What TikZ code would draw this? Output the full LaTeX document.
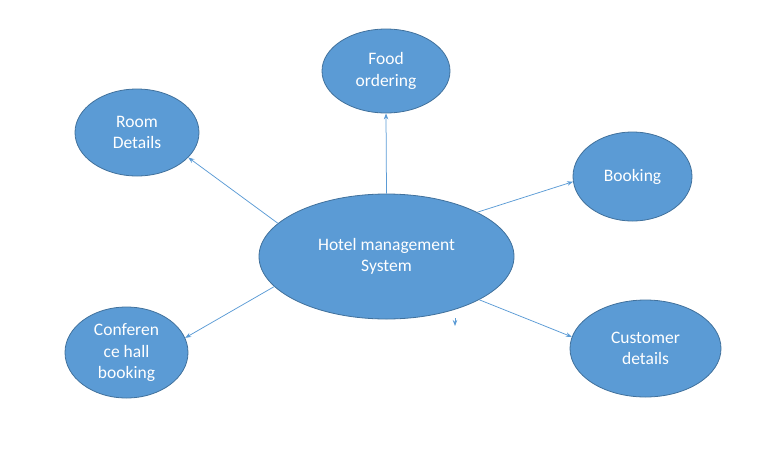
\documentclass[tikz,border=0pt]{standalone}
\usepackage{fontspec}
\setmainfont{Carlito}
\usetikzlibrary{shapes.geometric,arrows.meta}
\definecolor{blfill}{HTML}{5B9BD5}
\definecolor{blborder}{HTML}{41719C}
\definecolor{blline}{HTML}{5B9BD5}
\tikzset{
  bub/.style={ellipse,draw=blborder,fill=blfill,line width=0.8pt,inner sep=0pt,
    text=white,align=center,font=\fontsize{17.5}{21.5}\selectfont},
  conn/.style={draw=blline,line width=0.75pt,-{Stealth[length=6pt,width=4.5pt]}}
}
\begin{document}
\begin{tikzpicture}[x=1pt,y=-1pt]
\useasboundingbox (0,0) rectangle (768,453);
\node[bub,minimum width=255pt,minimum height=125pt] (c) at (386.5,256.5) {Hotel management\\System};
\node[bub,minimum width=128pt,minimum height=84pt] (food) at (386,71) {Food\\ordering};
\node[bub,minimum width=124pt,minimum height=87pt] (room) at (137,132.5) {Room\\Details};
\node[bub,minimum width=119pt,minimum height=89pt] (book) at (632.5,176.5) {Booking};
\node[bub,minimum width=151pt,minimum height=97pt] (cust) at (645.5,348.5) {Customer\\details};
\node[bub,minimum width=123pt,minimum height=91pt] (conf) at (126.5,352.5) {Conferen\\ce hall\\booking};
\draw[conn] (c.north) -- (food.south);
\draw[conn] (c.163.75) -- (room.-26.6);
\draw[conn] (c.26.4) -- (book.185.3);
\draw[conn] (c.-25.9) -- (cust.171.3);
\draw[conn] (c.195.5) -- (conf.14.1);
\coordinate (s1) at (455,318);
\coordinate (s2) at (455,326);
\draw[conn] (s1) -- (s2);
\end{tikzpicture}
\end{document}
